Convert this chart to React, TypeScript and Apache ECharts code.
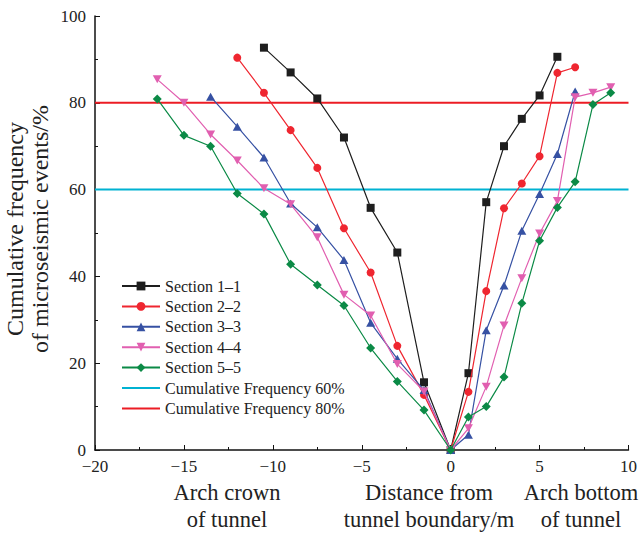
import React, { useEffect, useRef } from "react";
import * as echarts from "echarts";

const s1x = [-10.5, -9, -7.5, -6, -4.5, -3, -1.5, 0, 1, 2, 3, 4, 5, 6];
const s1y = [92.7, 87, 81, 72, 55.8, 45.5, 15.6, 0, 17.7, 57.1, 70, 76.3, 81.7, 90.6];
const s2x = [-12, -10.5, -9, -7.5, -6, -4.5, -3, -1.5, 0, 1, 2, 3, 4, 5, 6, 7];
const s2y = [90.4, 82.3, 73.7, 65, 51.1, 40.9, 24, 12.7, 0, 13.4, 36.6, 55.7, 61.4, 67.7, 86.9, 88.2];
const s3x = [-13.5, -12, -10.5, -9, -7.5, -6, -4.5, -3, -1.5, 0, 1, 2, 3, 4, 5, 6, 7];
const s3y = [81.4, 74.5, 67.4, 56.8, 51.3, 43.8, 29.3, 21, 13.8, 0, 3.5, 27.6, 37.9, 50.5, 59, 68.2, 82.6];
const s4x = [-16.5, -15, -13.5, -12, -10.5, -9, -7.5, -6, -4.5, -3, -1.5, 0, 1, 2, 3, 4, 5, 6, 7, 8, 9];
const s4y = [85.4, 80, 72.7, 66.7, 60.3, 56.6, 49, 35.8, 31, 19.8, 13.5, 0, 5, 14.6, 28.7, 39.6, 49.9, 57.4, 81.3, 82.3, 83.6];
const s5x = [-16.5, -15, -13.5, -12, -10.5, -9, -7.5, -6, -4.5, -3, -1.5, 0, 1, 2, 3, 4, 5, 6, 7, 8, 9];
const s5y = [80.9, 72.5, 70, 59.1, 54.4, 42.8, 38, 33.3, 23.5, 15.8, 9.2, 0, 7.6, 10, 16.8, 33.8, 48.2, 55.9, 61.8, 79.6, 82.3];

const seriesNames = ["Section 1\u20131", "Section 2\u20132", "Section 3\u20133", "Section 4\u20134", "Section 5\u20135"];
const refNames = ["Cumulative Frequency 60%", "Cumulative Frequency 80%"];
const refValues = [60, 80];
const xRange = [-20, 10];

const FONT = "Liberation Serif, Times New Roman, serif";

function pairs(xs: number[], ys: number[]) {
  return xs.map((x, i) => [x, ys[i]]);
}

export default function App() {
  const ref = useRef<HTMLDivElement>(null);
  useEffect(() => {
    if (!ref.current) return;
    const chart = echarts.init(ref.current, undefined, { renderer: "svg" });
    const colors = ["#1e1e1e", "#ef2630", "#3651a3", "#e15fb0", "#0b8a46"];
    const refColors = ["#00b2d2", "#ec1c24"];
    const symbols = ["rect", "circle", "triangle", "path://M0,0 L2,0 L1,1.7 Z", "diamond"];
    const sizes = [8, 8, [9, 8], [9, 8], 9];
    const data = [pairs(s1x, s1y), pairs(s2x, s2y), pairs(s3x, s3y), pairs(s4x, s4y), pairs(s5x, s5y)];
    const series: any[] = [];
    refValues.forEach((v, i) => {
      series.push({
        name: refNames[i],
        type: "line",
        data: [[xRange[0], v], [xRange[1], v]],
        symbol: "none",
        lineStyle: { color: refColors[i], width: 2 },
        itemStyle: { color: refColors[i], opacity: 0 },
        z: 1,
      });
    });
    data.forEach((d, i) => {
      series.push({
        name: seriesNames[i],
        type: "line",
        data: d,
        symbol: symbols[i],
        symbolSize: sizes[i],
        lineStyle: { color: colors[i], width: 1.2 },
        itemStyle: { color: colors[i] },
        z: 3 + i,
      });
    });
    const nameStyle = { fontFamily: FONT, fontSize: 22.5, lineHeight: 27, fill: "#222", align: "center", verticalAlign: "middle" };
    chart.setOption({
      animation: false,
      grid: { left: 95, right: 5, top: 16, bottom: 85 },
      legend: {
        orient: "vertical",
        left: 116,
        top: 273,
        itemWidth: 38,
        itemHeight: 11,
        itemGap: 4.4,
        data: [
          ...seriesNames.map((n) => ({ name: n })),
          ...refNames.map((n) => ({ name: n, itemStyle: { opacity: 0 } })),
        ],
        textStyle: { fontFamily: FONT, fontSize: 16, color: "#222" },
      },
      xAxis: {
        type: "value",
        min: -20,
        max: 10,
        interval: 5,
        axisLine: { onZero: false, lineStyle: { color: "#111", width: 1.5 } },
        axisTick: { inside: true, length: 5, lineStyle: { color: "#111" } },
        minorTick: { show: true, splitNumber: 2, length: 3, lineStyle: { color: "#111" } },
        splitLine: { show: false },
        axisLabel: {
          margin: 8,
          fontFamily: FONT,
          fontSize: 17,
          color: "#222",
          formatter: (v: number) => (v < 0 ? "\u2212" + Math.abs(v) : String(v)),
        },
      },
      yAxis: {
        type: "value",
        min: 0,
        max: 100,
        interval: 20,
        axisLine: { show: true, onZero: false, lineStyle: { color: "#111", width: 1.5 } },
        axisTick: { inside: true, length: 5, lineStyle: { color: "#111" } },
        minorTick: { show: true, splitNumber: 2, length: 3, lineStyle: { color: "#111" } },
        splitLine: { show: false },
        axisLabel: { margin: 9, fontFamily: FONT, fontSize: 17, color: "#222" },
      },
      graphic: [
        {
          type: "text",
          x: 27,
          y: 229,
          rotation: Math.PI / 2,
          style: {
            text: "Cumulative frequency\nof microseismic events/%",
            fontFamily: FONT,
            fontSize: 24,
            lineHeight: 25,
            fill: "#222",
            align: "center",
            verticalAlign: "middle",
          },
        },
        { type: "text", x: 227, y: 506, style: { ...nameStyle, text: "Arch crown\nof tunnel" } },
        { type: "text", x: 429, y: 506, style: { ...nameStyle, text: "Distance from\ntunnel boundary/m" } },
        { type: "text", x: 581, y: 506, style: { ...nameStyle, text: "Arch bottom\nof tunnel" } },
      ],
      series,
    });
    return () => chart.dispose();
  }, []);
  return <div ref={ref} style={{ position: "absolute", left: 0, top: 0, width: 640, height: 535 }} />;
}
